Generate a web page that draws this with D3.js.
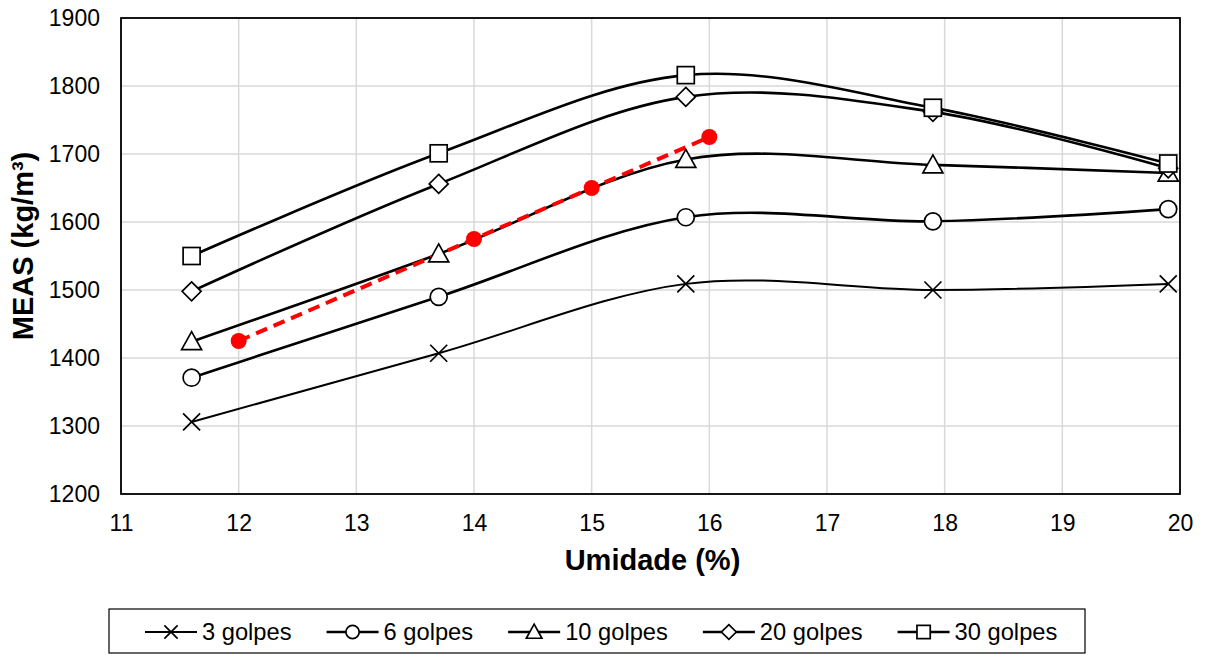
<!DOCTYPE html>
<html>
<head>
<meta charset="utf-8">
<script src="https://cdn.jsdelivr.net/npm/d3@7"></script>
<style>
  body { margin: 0; background: #fff; }
</style>
</head>
<body>
<div id="chart"></div>
<script>
// data
const umidade = [11.6, 13.7, 15.8, 17.9, 19.9];
const golpes3 = [1306, 1407, 1509, 1500, 1509];
const golpes6 = [1371, 1490, 1607, 1601, 1619];
const golpes10 = [1424, 1553, 1692, 1684, 1672];
const golpes20 = [1498, 1656, 1784, 1762, 1679];
const golpes30 = [1550, 1701, 1816, 1768, 1686];
const redX = [12, 14, 15, 16];
const redY = [1425, 1575, 1650, 1725];
const xTicks = [11, 12, 13, 14, 15, 16, 17, 18, 19, 20];
const yTicks = [1200, 1300, 1400, 1500, 1600, 1700, 1800, 1900];

const series = [
  {name: "3 golpes", values: golpes3, symbol: "x", width: 2},
  {name: "6 golpes", values: golpes6, symbol: "circle", width: 2.6},
  {name: "10 golpes", values: golpes10, symbol: "triangle", width: 2.6},
  {name: "20 golpes", values: golpes20, symbol: "diamond", width: 2.6},
  {name: "30 golpes", values: golpes30, symbol: "square", width: 2.6}
];

const W = 1205, H = 655;
const margin = {top: 18, right: 25, bottom: 161, left: 121};
const iw = W - margin.left - margin.right;
const ih = H - margin.top - margin.bottom;
const font = "Arial, 'Liberation Sans', sans-serif";

const svg = d3.select("#chart").append("svg")
  .attr("width", W).attr("height", H);
const g = svg.append("g")
  .attr("transform", `translate(${margin.left},${margin.top})`);

const xScale = d3.scaleLinear().domain([11, 20]).range([0, iw]);
const yScale = d3.scaleLinear().domain([1200, 1900]).range([ih, 0]);

// gridlines
g.selectAll(".vgrid").data(xTicks).enter().append("line")
  .attr("x1", d => xScale(d)).attr("x2", d => xScale(d))
  .attr("y1", 0).attr("y2", ih)
  .attr("stroke", "#d9d9d9").attr("stroke-width", 1.5);
g.selectAll(".hgrid").data(yTicks).enter().append("line")
  .attr("x1", 0).attr("x2", iw)
  .attr("y1", d => yScale(d)).attr("y2", d => yScale(d))
  .attr("stroke", "#d9d9d9").attr("stroke-width", 1.5);

// axes (labels only, Excel style)
const xAxis = g.append("g")
  .attr("transform", `translate(0,${ih})`)
  .call(d3.axisBottom(xScale).tickValues(xTicks).tickSize(0).tickPadding(21).tickFormat(d3.format("d")));
const yAxis = g.append("g")
  .call(d3.axisLeft(yScale).tickValues(yTicks).tickSize(0).tickPadding(21).tickFormat(d3.format("d")));
[xAxis, yAxis].forEach(a => {
  a.select(".domain").remove();
  a.selectAll("text")
    .attr("font-family", font)
    .attr("font-size", "23px")
    .attr("fill", "#000");
});

// plot border
g.append("rect")
  .attr("x", 0).attr("y", 0).attr("width", iw).attr("height", ih)
  .attr("fill", "none").attr("stroke", "#000").attr("stroke-width", 1.8);

const line = d3.line()
  .x(d => xScale(d[0]))
  .y(d => yScale(d[1]))
  .curve(d3.curveCatmullRom.alpha(0));

function drawSymbol(sel, type, cx, cy, k) {
  const s = sel.append("g").attr("transform", `translate(${cx},${cy}) scale(${k || 1})`);
  const sw = 1.7 / (k || 1);
  if (type === "x") {
    s.append("path").attr("d", "M-8.5,-8.5L8.5,8.5M-8.5,8.5L8.5,-8.5")
      .attr("stroke", "#000").attr("stroke-width", sw).attr("fill", "none");
  } else if (type === "circle") {
    s.append("circle").attr("r", 8.5)
      .attr("fill", "#fff").attr("stroke", "#000").attr("stroke-width", sw);
  } else if (type === "triangle") {
    s.append("path").attr("d", "M0,-10L10,8L-10,8Z")
      .attr("fill", "#fff").attr("stroke", "#000").attr("stroke-width", sw);
  } else if (type === "diamond") {
    s.append("path").attr("d", "M0,-9.5L9.5,0L0,9.5L-9.5,0Z")
      .attr("fill", "#fff").attr("stroke", "#000").attr("stroke-width", sw);
  } else if (type === "square") {
    s.append("rect").attr("x", -8.5).attr("y", -8.5).attr("width", 17).attr("height", 17)
      .attr("fill", "#fff").attr("stroke", "#000").attr("stroke-width", sw);
  }
  return s;
}

// series lines
series.forEach(s => {
  const pts = umidade.map((u, i) => [u, s.values[i]]);
  g.append("path")
    .datum(pts)
    .attr("d", line)
    .attr("fill", "none")
    .attr("stroke", "#000")
    .attr("stroke-width", s.width);
});

// red dashed series
const redPts = redX.map((u, i) => [u, redY[i]]);
g.append("path")
  .datum(redPts)
  .attr("d", d3.line().x(d => xScale(d[0])).y(d => yScale(d[1])))
  .attr("fill", "none")
  .attr("stroke", "#ff0000")
  .attr("stroke-width", 4)
  .attr("stroke-dasharray", "12,7");

// markers
series.forEach(s => {
  umidade.forEach((u, i) => {
    drawSymbol(g, s.symbol, xScale(u), yScale(s.values[i]));
  });
});
redPts.forEach(p => {
  g.append("circle")
    .attr("cx", xScale(p[0])).attr("cy", yScale(p[1])).attr("r", 8)
    .attr("fill", "#ff0000");
});

// axis titles
svg.append("text")
  .attr("x", margin.left + iw / 2 + 2)
  .attr("y", 570)
  .attr("text-anchor", "middle")
  .attr("font-family", font)
  .attr("font-size", "29px")
  .attr("font-weight", "bold")
  .text("Umidade (%)");
svg.append("text")
  .attr("transform", `translate(33,246) rotate(-90)`)
  .attr("text-anchor", "middle")
  .attr("font-family", font)
  .attr("font-size", "29px")
  .attr("font-weight", "bold")
  .text("MEAS (kg/m³)");

// legend
const legend = svg.append("g");
legend.append("rect")
  .attr("x", 109).attr("y", 609).attr("width", 976).attr("height", 44)
  .attr("fill", "#fff").attr("stroke", "#000").attr("stroke-width", 1.2);
let lx = 145;
series.forEach(s => {
  legend.append("line")
    .attr("x1", lx).attr("x2", lx + 52)
    .attr("y1", 632).attr("y2", 632)
    .attr("stroke", "#000").attr("stroke-width", s.width);
  drawSymbol(legend, s.symbol, lx + 26, 632, 0.78);
  const t = legend.append("text")
    .attr("x", lx + 57).attr("y", 640)
    .attr("font-family", font)
    .attr("font-size", "23.7px")
    .text(s.name);
  lx += 57 + t.node().getComputedTextLength() + 35;
});
</script>
</body>
</html>
